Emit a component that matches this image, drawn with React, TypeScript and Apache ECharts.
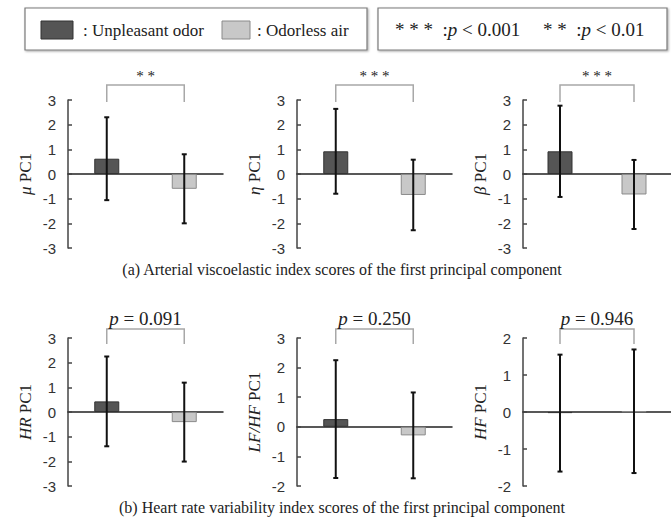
import React, { useEffect, useRef } from "react";
import * as echarts from "echarts";

// ---- data ----
const categories = ["Unpleasant odor", "Odorless air"];
const axisNames = ["{i|μ} PC1", "{i|η} PC1", "{i|β} PC1", "{i|HR} PC1", "{i|LF/HF} PC1", "{i|HF} PC1"];
const muMeans = [0.62, -0.6];
const muSd = [1.68, 1.4];
const etaMeans = [0.92, -0.85];
const etaSd = [1.72, 1.43];
const betaMeans = [0.92, -0.83];
const betaSd = [1.85, 1.4];
const hrMeans = [0.43, -0.41];
const hrSd = [1.82, 1.6];
const lfhfMeans = [0.26, -0.29];
const lfhfSd = [1.99, 1.45];
const hfMeans = [-0.03, 0.02];
const hfSd = [1.58, 1.67];
const sigLabels = ["* *", "* * *", "* * *", "{i|p} = 0.091", "{i|p} = 0.250", "{i|p} = 0.946"];
const yMins = [-3, -3, -3, -3, -2, -2];
const yMaxs = [3, 3, 3, 3, 3, 2];
const titleA = "(a) Arterial viscoelastic index scores of the first principal component";
const titleB = "(b) Heart rate variability index scores of the first principal component";

const allMeans = [muMeans, etaMeans, betaMeans, hrMeans, lfhfMeans, hfMeans];
const allSd = [muSd, etaSd, betaSd, hrSd, lfhfSd, hfSd];

// ---- layout ----
const gridLefts = [68, 297, 523];
const rowTops = [100, 338];
const gridW = 155;
const gridH = 148;
const serif = "Liberation Serif";
const sans = "Liberation Sans";
const barColors = ["#555555", "#c8c8c8"];
const barBorders = ["#333333", "#8a8a8a"];

export default function App() {
  const ref = useRef<HTMLDivElement>(null);
  useEffect(() => {
    if (!ref.current) return;
    const chart = echarts.init(ref.current, null, { renderer: "svg" });
    const grids: any[] = [];
    const xAxes: any[] = [];
    const yAxes: any[] = [];
    const series: any[] = [];
    for (let p = 0; p < 6; p++) {
      const row = Math.floor(p / 3);
      const col = p % 3;
      grids.push({ left: gridLefts[col], top: rowTops[row], width: gridW, height: gridH });
      xAxes.push({
        type: "category",
        gridIndex: p,
        data: categories,
        axisLine: { onZero: true, lineStyle: { color: "#222", width: 1.5 } },
        axisTick: { show: false },
        axisLabel: { show: false },
        splitLine: { show: false },
      });
      yAxes.push({
        type: "value",
        gridIndex: p,
        min: yMins[p],
        max: yMaxs[p],
        interval: 1,
        name: axisNames[p],
        nameLocation: "middle",
        nameRotate: 90,
        nameGap: 34,
        nameTextStyle: {
          fontFamily: serif,
          fontSize: 17,
          color: "#222",
          rich: { i: { fontFamily: serif, fontSize: 17, fontStyle: "italic", color: "#222" } },
        },
        axisLine: { show: true, lineStyle: { color: "#444", width: 1.5 } },
        axisTick: { show: true, inside: true, length: 4, lineStyle: { color: "#444", width: 1.5 } },
        splitLine: { show: false },
        axisLabel: { fontFamily: sans, fontSize: 15, color: "#333", margin: 12 },
      });
      const means = allMeans[p];
      const sds = allSd[p];
      series.push({
        type: "bar",
        xAxisIndex: p,
        yAxisIndex: p,
        barWidth: 25,
        data: means.map((m, i) => ({
          value: m,
          itemStyle: { color: barColors[i], borderColor: barBorders[i], borderWidth: 1 },
        })),
        z: 2,
      });
      series.push({
        type: "custom",
        xAxisIndex: p,
        yAxisIndex: p,
        clip: false,
        z: 5,
        data: means.map((m, i) => [i, m - sds[i], m + sds[i]]),
        renderItem: (params: any, api: any) => {
          const x = api.value(0);
          const lo = api.coord([x, api.value(1)]);
          const hi = api.coord([x, api.value(2)]);
          const c = 2.5;
          const st = { stroke: "#111", lineWidth: 2 };
          return {
            type: "group",
            children: [
              { type: "line", shape: { x1: lo[0], y1: lo[1], x2: hi[0], y2: hi[1] }, style: st },
              { type: "line", shape: { x1: lo[0] - c, y1: lo[1], x2: lo[0] + c, y2: lo[1] }, style: st },
              { type: "line", shape: { x1: hi[0] - c, y1: hi[1], x2: hi[0] + c, y2: hi[1] }, style: st },
            ],
          };
        },
      });
      const up = row === 0 ? 15 : 9;
      const down = row === 0 ? 2 : 6;
      const textUp = row === 0 ? 9 : 11;
      series.push({
        type: "custom",
        xAxisIndex: p,
        yAxisIndex: p,
        clip: false,
        z: 6,
        data: [[0, 1, yMaxs[p]]],
        renderItem: (params: any, api: any) => {
          const a = api.coord([api.value(0), api.value(2)]);
          const b = api.coord([api.value(1), api.value(2)]);
          const top = a[1] - up;
          return {
            type: "group",
            children: [
              {
                type: "polyline",
                shape: { points: [[a[0], a[1] + down], [a[0], top], [b[0], top], [b[0], b[1] + down]] },
                style: { stroke: "#a8a8a8", lineWidth: 1.5, fill: "none" },
              },
              {
                type: "text",
                style: {
                  text: sigLabels[p],
                  x: (a[0] + b[0]) / 2,
                  y: top - textUp,
                  align: "center",
                  verticalAlign: "middle",
                  fontFamily: serif,
                  fontSize: row === 0 ? 15 : 19,
                  fill: "#222",
                  rich: { i: { fontFamily: serif, fontSize: 19, fontStyle: "italic", fill: "#222" } },
                },
              },
            ],
          };
        },
      });
    }

    const boxStyle = {
      fill: "#fff",
      stroke: "#7a7a7a",
      lineWidth: 1.2,
      shadowBlur: 2,
      shadowOffsetX: 1,
      shadowOffsetY: 1,
      shadowColor: "rgba(0,0,0,0.35)",
    };
    const legText = { fontFamily: serif, fontSize: 17, fill: "#222" };
    const pText = { fontFamily: serif, fontSize: 19, fill: "#222" };
    const richI = { i: { fontFamily: serif, fontSize: 19, fontStyle: "italic", fill: "#222" } };
    const graphic: any[] = [
      { type: "rect", shape: { x: 25, y: 8, width: 342, height: 42 }, style: boxStyle },
      { type: "rect", shape: { x: 378, y: 8, width: 289, height: 42 }, style: boxStyle },
      { type: "rect", shape: { x: 41, y: 21, width: 32, height: 18 }, style: { fill: barColors[0], stroke: barBorders[0], lineWidth: 1 } },
      { type: "text", x: 83, y: 30, style: { ...legText, text: ": " + categories[0], verticalAlign: "middle" } },
      { type: "rect", shape: { x: 222, y: 21, width: 28, height: 18 }, style: { fill: barColors[1], stroke: barBorders[1], lineWidth: 1 } },
      { type: "text", x: 257, y: 30, style: { ...legText, text: ": " + categories[1], verticalAlign: "middle" } },
      {
        type: "text",
        x: 395,
        y: 29,
        style: { ...pText, text: "* * *  :{i|p} < 0.001", verticalAlign: "middle", rich: richI },
      },
      {
        type: "text",
        x: 543,
        y: 29,
        style: { ...pText, text: "* *  :{i|p} < 0.01", verticalAlign: "middle", rich: richI },
      },
      { type: "text", x: 342, y: 269, style: { fontFamily: serif, fontSize: 16, fill: "#222", text: titleA, align: "center", verticalAlign: "middle" } },
      { type: "text", x: 342, y: 507, style: { fontFamily: serif, fontSize: 16, fill: "#222", text: titleB, align: "center", verticalAlign: "middle" } },
    ];

    chart.setOption({
      animation: false,
      backgroundColor: "#fff",
      grid: grids,
      xAxis: xAxes,
      yAxis: yAxes,
      series,
      graphic,
    });
    return () => chart.dispose();
  }, []);
  return <div ref={ref} style={{ position: "absolute", left: 0, top: 0, width: 671, height: 519 }} />;
}
